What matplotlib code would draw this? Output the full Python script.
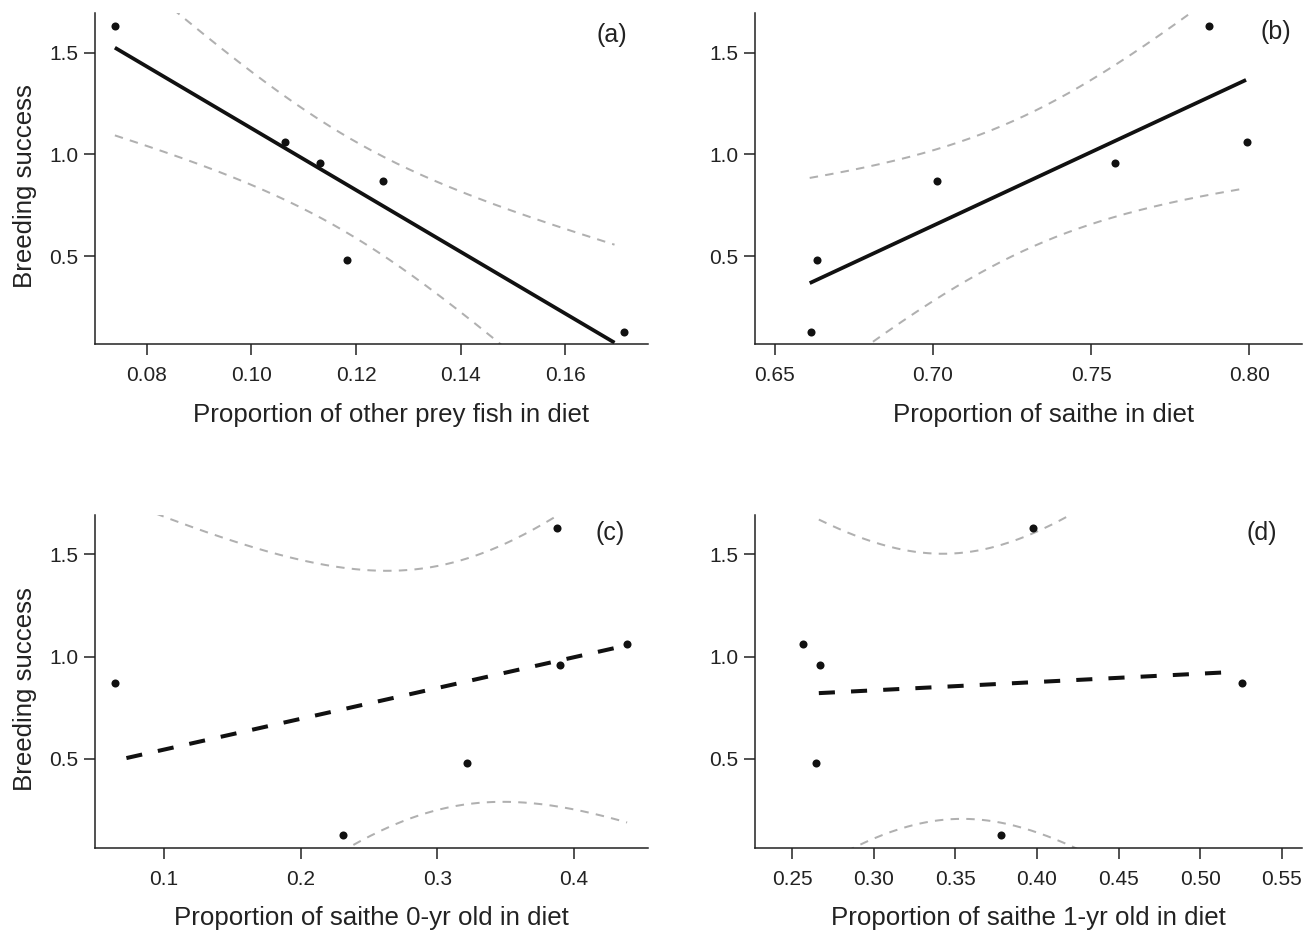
import numpy as np
import matplotlib
matplotlib.use("Agg")
import matplotlib.pyplot as plt

plt.rcParams['font.family'] = ['Liberation Sans', 'DejaVu Sans']

# ---- data ----
breeding_success = [1.63, 1.06, 0.96, 0.87, 0.48, 0.13]
prop_other_fish = [0.0739, 0.1064, 0.1131, 0.1252, 0.1183, 0.1713]
prop_saithe = [0.7873, 0.7992, 0.7575, 0.7012, 0.6633, 0.6614]
prop_saithe_0yr = [0.3877, 0.4390, 0.3896, 0.0641, 0.3220, 0.2313]
prop_saithe_1yr = [0.3974, 0.2566, 0.2672, 0.5256, 0.2646, 0.3782]

# x-range over which each fitted line / 95% CI was drawn
fit_range_a = [0.0739, 0.1694]
fit_range_b = [0.6610, 0.7990]
fit_range_c = [0.0724, 0.4390]
fit_range_d = [0.2664, 0.5172]

xticks_a = [0.08, 0.10, 0.12, 0.14, 0.16]
xticks_b = [0.65, 0.70, 0.75, 0.80]
xticks_c = [0.1, 0.2, 0.3, 0.4]
xticks_d = [0.25, 0.30, 0.35, 0.40, 0.45, 0.50, 0.55]
yticks = [0.5, 1.0, 1.5]

xlabels = ["Proportion of other prey fish in diet",
           "Proportion of saithe in diet",
           "Proportion of saithe 0-yr old in diet",
           "Proportion of saithe 1-yr old in diet"]
panel_tags = ["(a)", "(b)", "(c)", "(d)"]
ylabel = "Breeding success"

T_CRIT = 2.7764  # t(0.975, df=4)

W, H = 1306, 933
fig = plt.figure(figsize=(W / 100, H / 100), dpi=100)


def px_axes(left, top, right, bottom):
    return fig.add_axes([left / W, 1 - bottom / H, (right - left) / W, (bottom - top) / H])


panels = [
    dict(x=prop_other_fish, rng=fit_range_a, ticks=xticks_a, fmt="{:.2f}",
         xlim=(0.0701, 0.1758), ylim=(0.070, 1.694), box=(95, 13, 648, 344),
         solid=True, tag=(0.962, 0.934), xlab=(0.536, -0.178)),
    dict(x=prop_saithe, rng=fit_range_b, ticks=xticks_b, fmt="{:.2f}",
         xlim=(0.6437, 0.8167), ylim=(0.070, 1.694), box=(755, 13, 1302, 344),
         solid=True, tag=(0.981, 0.942), xlab=(0.527, -0.178)),
    dict(x=prop_saithe_0yr, rng=fit_range_c, ticks=xticks_c, fmt="{:.1f}",
         xlim=(0.0494, 0.4543), ylim=(0.065, 1.692), box=(95, 515, 648, 848),
         solid=False, tag=(0.958, 0.946), xlab=(0.5, -0.174)),
    dict(x=prop_saithe_1yr, rng=fit_range_d, ticks=xticks_d, fmt="{:.2f}",
         xlim=(0.2273, 0.5624), ylim=(0.065, 1.692), box=(755, 515, 1302, 848),
         solid=False, tag=(0.954, 0.946), xlab=(0.5, -0.174)),
]

y = np.asarray(breeding_success)
for i, p in enumerate(panels):
    ax = px_axes(*p["box"])
    x = np.asarray(p["x"])
    n = len(x)
    xm = x.mean()
    sxx = ((x - xm) ** 2).sum()
    slope = ((x - xm) * (y - y.mean())).sum() / sxx
    icpt = y.mean() - slope * xm
    resid = y - (icpt + slope * x)
    s = np.sqrt((resid ** 2).sum() / (n - 2))
    xf = np.linspace(p["rng"][0], p["rng"][1], 200)
    yf = icpt + slope * xf
    se = s * np.sqrt(1.0 / n + (xf - xm) ** 2 / sxx)

    ax.plot(xf, yf + T_CRIT * se, color="#b0b0b0", lw=1.45, dashes=(4.2, 3.6))
    ax.plot(xf, yf - T_CRIT * se, color="#b0b0b0", lw=1.45, dashes=(4.2, 3.6))
    if p["solid"]:
        ax.plot(xf, yf, color="#111111", lw=2.7, solid_capstyle="butt")
    else:
        ax.plot(xf, yf, color="#111111", lw=2.9, dashes=(4, 4))
    ax.plot(x, y, "o", color="#111111", ms=5.8, mec="none")

    ax.set_xlim(*p["xlim"])
    ax.set_ylim(*p["ylim"])
    ax.set_xticks(p["ticks"])
    ax.set_xticklabels([p["fmt"].format(t) for t in p["ticks"]])
    ax.set_yticks(yticks)
    ax.set_yticklabels(["{:.1f}".format(t) for t in yticks])
    for sp in ("top", "right"):
        ax.spines[sp].set_visible(False)
    for sp in ("left", "bottom"):
        ax.spines[sp].set_linewidth(1.1)
        ax.spines[sp].set_color("#222222")
    ax.tick_params(axis="both", direction="out", length=8, width=1.1,
                   colors="#222222", labelsize=15, labelcolor="#222222")
    ax.tick_params(axis="x", pad=8)
    ax.tick_params(axis="y", pad=4)
    ax.set_xlabel(xlabels[i], fontsize=18.6, color="#222222")
    ax.xaxis.set_label_coords(p["xlab"][0], p["xlab"][1])
    ax.xaxis.label.set_va("top")
    if i % 2 == 0:
        ax.set_ylabel(ylabel, fontsize=18.6, labelpad=9, color="#222222")
        ax.yaxis.label.set_y(0.478)
    ax.text(p["tag"][0], p["tag"][1], panel_tags[i], transform=ax.transAxes,
            ha="right", va="center", fontsize=18, color="#222222")

fig.savefig("out.png", dpi=100)
